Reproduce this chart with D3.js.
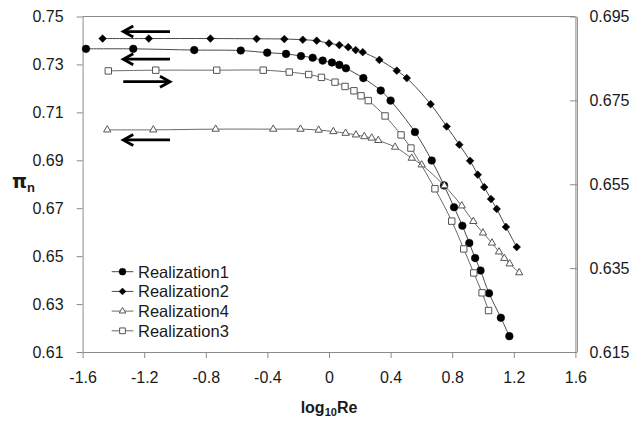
<!DOCTYPE html>
<html>
<head>
<meta charset="utf-8">
<script src="https://cdn.jsdelivr.net/npm/d3@7"></script>
<style>
  body { margin: 0; background: #fff; }
  svg { font-family: "Liberation Sans", Arial, sans-serif; }
</style>
</head>
<body>
<svg id="chart" width="633" height="421"></svg>
<script>
// log10Re / pi_n values
const r1X = [-1.578, -1.271, -0.875, -0.573, -0.401, -0.279, -0.182, -0.106, -0.041, 0.019, 0.067, 0.11, 0.223, 0.336, 0.40, 0.558, 0.667, 0.747, 0.812, 0.866, 0.911, 0.949, 0.984, 1.039, 1.116, 1.171];
const r1Y = [0.7365, 0.7365, 0.7360, 0.7358, 0.7349, 0.7344, 0.7335, 0.7328, 0.7316, 0.7308, 0.7298, 0.7284, 0.7243, 0.7191, 0.7149, 0.7018, 0.6899, 0.6795, 0.6704, 0.6627, 0.6555, 0.6492, 0.6440, 0.6345, 0.6243, 0.6166];

const r2X = [-1.47, -1.17, -0.77, -0.47, -0.29, -0.17, -0.08, 0.0, 0.067, 0.125, 0.173, 0.219, 0.327, 0.44, 0.505, 0.66, 0.764, 0.846, 0.916, 0.966, 1.008, 1.052, 1.089, 1.149, 1.219];
const r2Y = [0.7408, 0.7408, 0.7408, 0.7407, 0.7406, 0.7403, 0.7399, 0.7388, 0.7381, 0.7372, 0.7360, 0.7351, 0.7319, 0.7274, 0.7243, 0.7134, 0.7041, 0.6965, 0.6898, 0.6840, 0.6788, 0.6738, 0.6697, 0.6622, 0.6538];

const r3X = [-1.433, -1.125, -0.729, -0.427, -0.258, -0.132, -0.049, 0.039, 0.104, 0.162, 0.208, 0.255, 0.364, 0.468, 0.532, 0.688, 0.797, 0.875, 0.94, 0.994, 1.036];
const r3Y = [0.7273, 0.7276, 0.7276, 0.7276, 0.7268, 0.7258, 0.7246, 0.7226, 0.7208, 0.7190, 0.7169, 0.7149, 0.7085, 0.7006, 0.6951, 0.6781, 0.6646, 0.6530, 0.6430, 0.6347, 0.6273];

const r4X = [-1.44, -1.141, -0.736, -0.362, -0.185, -0.067, 0.028, 0.108, 0.175, 0.229, 0.277, 0.32, 0.429, 0.537, 0.602, 0.749, 0.862, 0.937, 1.0, 1.058, 1.104, 1.138, 1.173, 1.235];
const r4Y = [0.7027, 0.7027, 0.7030, 0.7030, 0.7030, 0.7026, 0.7020, 0.7013, 0.7006, 0.6999, 0.6993, 0.6983, 0.6955, 0.6909, 0.6881, 0.6794, 0.6710, 0.6645, 0.6597, 0.6555, 0.6518, 0.6491, 0.6468, 0.6431];

const xTicks = [-1.6, -1.2, -0.8, -0.4, 0, 0.4, 0.8, 1.2, 1.6];
const yTicks = [0.61, 0.63, 0.65, 0.67, 0.69, 0.71, 0.73, 0.75];
const y2Ticks = [0.615, 0.635, 0.655, 0.675, 0.695];

// arrows: [from x, to x, y] in data units
const arrows = [
  [-1.0325, -1.336, 0.7437],
  [-1.0325, -1.336, 0.7322],
  [-1.336, -1.0325, 0.7228],
  [-1.0325, -1.336, 0.6985]
];

const legendNames = ["Realization1", "Realization2", "Realization4", "Realization3"];

const svg = d3.select("#chart");

const x = d3.scaleLinear().domain([-1.6, 1.6]).range([82.6, 575.4]);
const y = d3.scaleLinear().domain([0.61, 0.75]).range([352, 16.5]);
const y2 = d3.scaleLinear().domain([0.615, 0.695]).range([352, 16.5]);

const axisColor = "#8a8a8a";

// top border
svg.append("line")
  .attr("x1", x(-1.6)).attr("x2", x(1.6))
  .attr("y1", y(0.75)).attr("y2", y(0.75))
  .attr("stroke", axisColor).attr("stroke-width", 1);

function styleAxis(g) {
  g.select(".domain").attr("stroke", axisColor);
  g.selectAll(".tick line").attr("stroke", axisColor);
  g.selectAll(".tick text").attr("fill", "#1a1a1a").style("font-size", "16px");
}

svg.append("g")
  .attr("transform", `translate(0,${y(0.61)})`)
  .call(d3.axisBottom(x).tickValues(xTicks).tickSize(6).tickSizeOuter(0).tickPadding(14)
    .tickFormat(d => (d === 0 ? "0" : d.toFixed(1))))
  .call(styleAxis);

svg.append("g")
  .attr("transform", `translate(${x(-1.6)},0)`)
  .call(d3.axisLeft(y).tickValues(yTicks).tickSize(6).tickSizeOuter(0).tickPadding(13)
    .tickFormat(d3.format(".2f")))
  .call(styleAxis);

// right axis: ticks inside, labels outside
svg.append("g")
  .attr("transform", `translate(${x(1.6) + 1.5},0)`)
  .call(d3.axisLeft(y2).tickValues(y2Ticks).tickSize(7).tickSizeOuter(0).tickFormat(""))
  .call(styleAxis);
svg.append("g")
  .attr("transform", `translate(${x(1.6)},0)`)
  .call(d3.axisRight(y2).tickValues(y2Ticks).tickSize(0).tickPadding(14).tickFormat(d3.format(".3f")))
  .call(styleAxis);

// axis titles
svg.append("text")
  .attr("x", x(0)).attr("y", 413)
  .attr("text-anchor", "middle")
  .style("font-size", "16px").style("font-weight", "bold")
  .attr("fill", "#1a1a1a")
  .call(t => {
    t.append("tspan").text("log");
    t.append("tspan").attr("dy", 3).style("font-size", "11px").text("10");
    t.append("tspan").attr("dy", -3).text("Re");
  });

svg.append("text")
  .attr("x", 12).attr("y", 188)
  .style("font-size", "19px").style("font-weight", "bold")
  .attr("fill", "#1a1a1a")
  .call(t => {
    t.append("tspan").style("font-family", "'DejaVu Sans', sans-serif").text("π");
    t.append("tspan").attr("dy", 4).style("font-size", "13px").text("n");
  });

// series
const series = [
  { name: "Realization1", xs: r1X, ys: r1Y, marker: "circle", fill: "#000", stroke: "#000", line: "#4a4a4a" },
  { name: "Realization2", xs: r2X, ys: r2Y, marker: "diamond", fill: "#000", stroke: "#000", line: "#4a4a4a" },
  { name: "Realization4", xs: r4X, ys: r4Y, marker: "triangle", fill: "#fff", stroke: "#555", line: "#6a6a6a" },
  { name: "Realization3", xs: r3X, ys: r3Y, marker: "square", fill: "#fff", stroke: "#555", line: "#6a6a6a" }
];

const symbolType = {
  circle: d3.symbolCircle,
  diamond: d3.symbolDiamond2,
  triangle: d3.symbolTriangle2,
  square: d3.symbolSquare2
};
const symbolSize = { circle: 46, diamond: 38, triangle: 38, square: 52 };

const line = d3.line()
  .x(d => x(d[0]))
  .y(d => y(d[1]))
  .curve(d3.curveCatmullRom.alpha(0.5));

series.forEach(s => {
  const pts = s.xs.map((v, i) => [v, s.ys[i]]);
  svg.append("path")
    .datum(pts)
    .attr("d", line)
    .attr("fill", "none")
    .attr("stroke", s.line)
    .attr("stroke-width", 1);
  svg.append("g")
    .selectAll("path")
    .data(pts)
    .join("path")
    .attr("transform", d => `translate(${x(d[0])},${y(d[1])})`)
    .attr("d", d3.symbol().type(symbolType[s.marker]).size(symbolSize[s.marker]))
    .attr("fill", s.fill)
    .attr("stroke", s.stroke)
    .attr("stroke-width", s.marker === "triangle" || s.marker === "square" ? 1 : 0.5);
});

// arrows
arrows.forEach(a => {
  const x0 = x(a[0]), x1 = x(a[1]), yy = y(a[2]);
  const dir = x1 > x0 ? 1 : -1;
  svg.append("line")
    .attr("x1", x0).attr("x2", x1 - dir * 1)
    .attr("y1", yy).attr("y2", yy)
    .attr("stroke", "#000").attr("stroke-width", 2.8);
  svg.append("path")
    .attr("d", `M${x1 - dir * 10},${yy - 5.5}L${x1},${yy}L${x1 - dir * 10},${yy + 5.5}`)
    .attr("fill", "none")
    .attr("stroke", "#000").attr("stroke-width", 2.8)
    .attr("stroke-linejoin", "miter");
});

// legend
const legend = svg.append("g").attr("transform", "translate(111.7,271.7)");
series.forEach((s, i) => {
  const g = legend.append("g").attr("transform", `translate(0,${i * 19.7})`);
  g.append("line").attr("x1", 0).attr("x2", 21.6).attr("y1", 0).attr("y2", 0)
    .attr("stroke", s.line).attr("stroke-width", 1);
  g.append("path")
    .attr("transform", "translate(10.8,0)")
    .attr("d", d3.symbol().type(symbolType[s.marker]).size(symbolSize[s.marker] * 0.8))
    .attr("fill", s.fill).attr("stroke", s.stroke)
    .attr("stroke-width", s.marker === "triangle" || s.marker === "square" ? 1 : 0.5);
  g.append("text")
    .attr("x", 26.3).attr("y", 6)
    .style("font-size", "16.5px")
    .attr("fill", "#1a1a1a")
    .text(legendNames[i]);
});
</script>
</body>
</html>
